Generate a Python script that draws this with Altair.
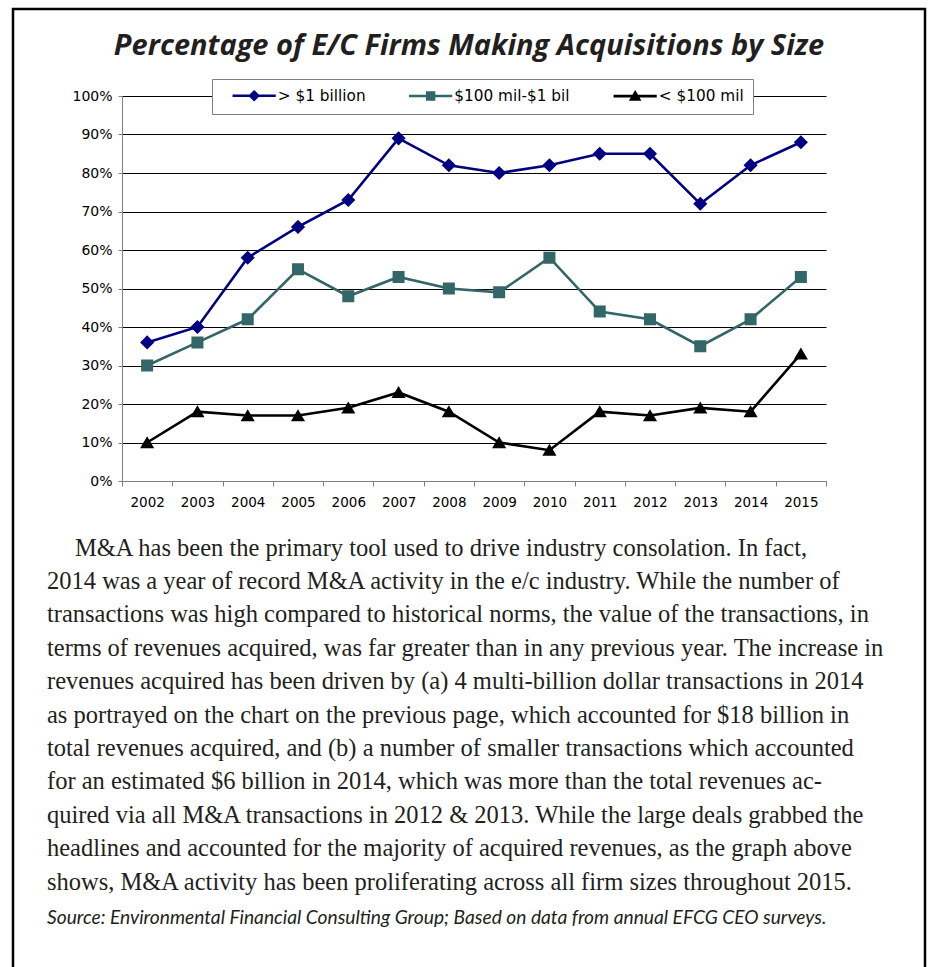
import altair as alt
import pandas as pd

# ---------------- data ----------------
years = [2002, 2003, 2004, 2005, 2006, 2007, 2008, 2009, 2010, 2011, 2012, 2013, 2014, 2015]
over_1b = [36, 40, 58, 66, 73, 89, 82, 80, 82, 85, 85, 72, 82, 88]
mid_range = [30, 36, 42, 55, 48, 53, 50, 49, 58, 44, 42, 35, 42, 53]
under_100m = [10, 18, 17, 17, 19, 23, 18, 10, 8, 18, 17, 19, 18, 33]
series_names = ["> $1 billion", "$100 mil-$1 bil", "< $100 mil"]
series_colors = ["#000080", "#336666", "#000000"]
y_ticks = [0, 10, 20, 30, 40, 50, 60, 70, 80, 90, 100]

title_text = "Percentage of E/C Firms Making Acquisitions by Size"
paragraph_first = "M&A has been the primary tool used to drive industry consolation. In fact,"
paragraph_rest = [
    "2014 was a year of record M&A activity in the e/c industry. While the number of",
    "transactions was high compared to historical norms, the value of the transactions, in",
    "terms of revenues acquired, was far greater than in any previous year. The increase in",
    "revenues acquired has been driven by (a) 4 multi-billion dollar transactions in 2014",
    "as portrayed on the chart on the previous page, which accounted for $18 billion in",
    "total revenues acquired, and (b) a number of smaller transactions which accounted",
    "for an estimated $6 billion in 2014, which was more than the total revenues ac-",
    "quired via all M&A transactions in 2012 & 2013. While the large deals grabbed the",
    "headlines and accounted for the majority of acquired revenues, as the graph above",
    "shows, M&A activity has been proliferating across all firm sizes throughout 2015.",
]
source_text = "Source: Environmental Financial Consulting Group; Based on data from annual EFCG CEO surveys."

rows = []
for name, vals in zip(series_names, [over_1b, mid_range, under_100m]):
    for yr, v in zip(years, vals):
        rows.append({"year": str(yr), "series": name, "value": v})
df = pd.DataFrame(rows)

# ---------------- layout ----------------
W, H = 704, 385
PAD = {"left": 122, "top": 96, "right": 932 - 122 - W, "bottom": 967 - 96 - H}

# marker shapes: filled marker inside unit square + a legend line (stroke only shows in legend)
L = 5.4
diamond = f"M-{L},0L{L},0M0,-1L1,0L0,1L-1,0Z"
square = f"M-{L},0L{L},0M-0.85,-0.85L0.85,-0.85L0.85,0.85L-0.85,0.85Z"
triangle = f"M-{L},0L{L},0M0,-0.9L1,0.8L-1,0.8Z"

color_scale = alt.Scale(domain=series_names, range=series_colors)
shape_scale = alt.Scale(domain=series_names, range=[diamond, square, triangle])

x_enc = alt.X(
    "year:O",
    sort=[str(y) for y in years],
    scale=alt.Scale(type="band", paddingInner=0, paddingOuter=0),
    axis=alt.Axis(
        title=None, labelAngle=0, tickBand="extent", grid=False,
        domainColor="#808080", tickColor="#808080", tickSize=5,
        labelPadding=9, labelFont="DejaVu Sans", labelFontSize=13.5, labelColor="black",
    ),
)
y_enc = alt.Y(
    "value:Q",
    scale=alt.Scale(domain=[0, 100], nice=False),
    axis=alt.Axis(
        title=None, values=y_ticks, labelExpr="datum.value + '%'",
        grid=True, gridColor="black", gridWidth=1,
        domainColor="#808080", tickColor="#808080", tickSize=4,
        labelPadding=6, labelFont="DejaVu Sans", labelFontSize=14, labelColor="black",
    ),
)

legend = alt.Legend(
    title=None, orient="none", legendX=90, legendY=-17, direction="horizontal",
    fillColor="white", strokeColor="#808080", padding=9,
    labelFont="DejaVu Sans", labelFontSize=15.3, labelColor="black",
    symbolSize=64, symbolOffset=25.5, labelOffset=16, columnPadding=31.5,
    symbolStrokeWidth=2.6,
    symbolStrokeColor=alt.ExprRef("scale('color', datum.value)"),
)

base = alt.Chart(df)
lines = base.mark_line(strokeWidth=2.6).encode(
    x=x_enc, y=y_enc,
    color=alt.Color("series:N", scale=color_scale),
)
points = base.mark_point(filled=True, size=200, opacity=1).encode(
    x=x_enc, y=y_enc,
    color=alt.Color("series:N", scale=color_scale, legend=legend),
    shape=alt.Shape("series:N", scale=shape_scale, legend=legend),
)

one = alt.Data(values=[{"k": 0}])
frame = alt.Chart(one).mark_rect(fillOpacity=0, stroke="black", strokeWidth=2.5).encode(
    x=alt.value(-109), x2=alt.value(803), y=alt.value(-87), y2=alt.value(905)
)
title = alt.Chart(one).mark_text(
    align="center", baseline="alphabetic", font="Open Sans", fontSize=29,
    fontWeight="bold", fontStyle="italic", color="#231f20",
).encode(x=alt.value(469 - 122), y=alt.value(55 - 96), text=alt.value(title_text))
para1 = alt.Chart(one).mark_text(
    align="left", baseline="alphabetic", font="Liberation Serif", fontSize=24.5, color="#231f20"
).encode(x=alt.value(75 - 122), y=alt.value(556 - 96), text=alt.value(paragraph_first))
para_rest = alt.Chart(one).mark_text(
    align="left", baseline="alphabetic", font="Liberation Serif", fontSize=24.5,
    color="#231f20", lineHeight=33.4,
).encode(x=alt.value(47 - 122), y=alt.value(589 - 96), text=alt.value(paragraph_rest))
source = alt.Chart(one).mark_text(
    align="left", baseline="alphabetic", font="Lato", fontSize=19.2, fontStyle="italic",
    color="#231f20",
).encode(x=alt.value(47 - 122), y=alt.value(924 - 96), text=alt.value(source_text))

chart = alt.layer(frame, title, lines, points, para1, para_rest, source).properties(
    width=W, height=H, padding=PAD,
    autosize=alt.AutoSizeParams(type="none"),
    background="white",
).configure_view(stroke=None)

chart.save("out.html", embed_options={"renderer": "svg", "actions": False})
